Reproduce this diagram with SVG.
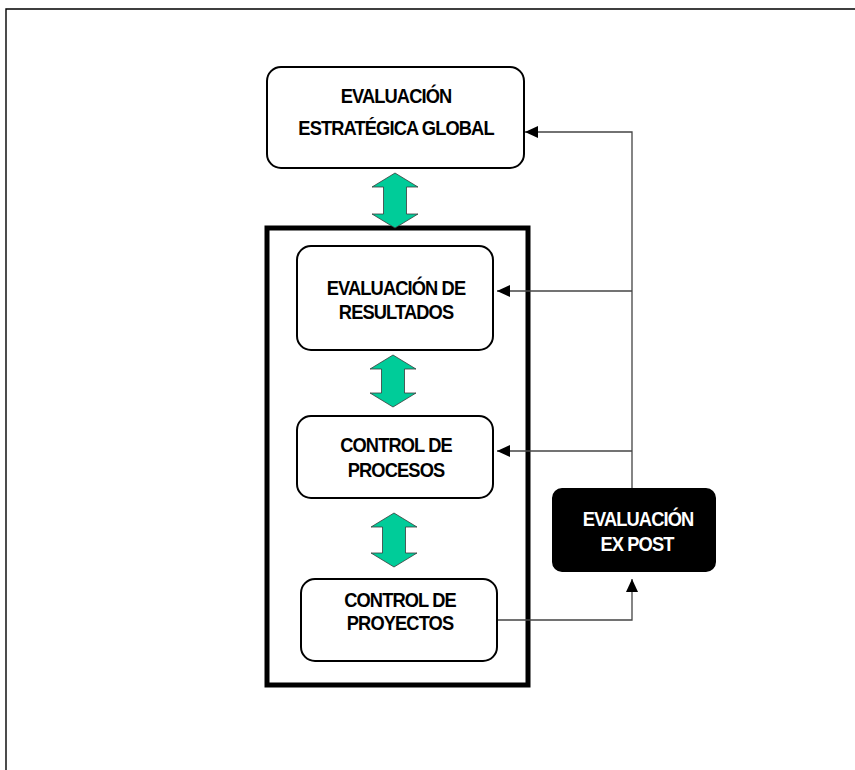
<svg xmlns="http://www.w3.org/2000/svg" width="855" height="770" viewBox="0 0 855 770">
<style>
.box{fill:#fff;stroke:#000;stroke-width:2}
.dark{fill:#000;stroke:#000;stroke-width:2}
.t{font-family:"Liberation Sans",Arial,sans-serif;font-weight:bold;font-size:21px;letter-spacing:-1px;text-anchor:middle;fill:#000}
.w{fill:#fff}
.dbl{fill:#00CC99;stroke:#3a3a3a;stroke-width:0.8}
.con{fill:none;stroke:#444;stroke-width:1.3}
</style>
<defs>
<marker id="ah" markerUnits="userSpaceOnUse" markerWidth="14" markerHeight="12" refX="13" refY="6" orient="auto">
<path d="M0,0 L13,6 L0,12 Z" fill="#000"/>
</marker>
</defs>
<rect width="855" height="770" fill="#fff"/>
<g id="frame">
<path d="M6,770 V9 H855" fill="none" stroke="#000" stroke-width="1.4"/>
</g>
<g id="container">
<rect x="267" y="228" width="261" height="457" fill="none" stroke="#000" stroke-width="5"/>
</g>
<g id="connectors">
<path class="con" d="M497,620 H632 V579" marker-end="url(#ah)"/>
<path class="con" d="M632,489 V132 H525" marker-end="url(#ah)"/>
<path class="con" d="M632,291 H497" marker-end="url(#ah)"/>
<path class="con" d="M632,451 H497" marker-end="url(#ah)"/>
<polygon class="dbl" points="395,173 418,187 406.5,187 406.5,214 418,214 395,228 372,214 383.5,214 383.5,187 372,187"/>
<polygon class="dbl" points="393,355 416,369 404.5,369 404.5,393 416,393 393,407 370,393 381.5,393 381.5,369 370,369"/>
<polygon class="dbl" points="394,513 417,527 405.5,527 405.5,553 417,553 394,567 371,553 382.5,553 382.5,527 371,527"/>
</g>
<g id="global">
<rect class="box" x="267" y="67" width="257" height="101" rx="14"/>
<text class="t" transform="translate(396 103) scale(0.87 1)">EVALUACIÓN</text>
<text class="t" transform="translate(396 135) scale(0.87 1)">ESTRATÉGICA GLOBAL</text>
</g>
<g id="resultados">
<rect class="box" x="297" y="246" width="196" height="104" rx="14"/>
<text class="t" transform="translate(396 295) scale(0.87 1)">EVALUACIÓN DE</text>
<text class="t" transform="translate(396 319) scale(0.87 1)">RESULTADOS</text>
</g>
<g id="procesos">
<rect class="box" x="297" y="416" width="196" height="82" rx="14"/>
<text class="t" transform="translate(396 452) scale(0.87 1)">CONTROL DE</text>
<text class="t" transform="translate(396 477) scale(0.87 1)">PROCESOS</text>
</g>
<g id="proyectos">
<rect class="box" x="301" y="579" width="196" height="82" rx="14"/>
<text class="t" transform="translate(400 607) scale(0.87 1)">CONTROL DE</text>
<text class="t" transform="translate(400 630) scale(0.87 1)">PROYECTOS</text>
</g>
<g id="expost">
<rect class="dark" x="553" y="489" width="162" height="82" rx="9"/>
<text class="t w" transform="translate(638 526) scale(0.87 1)">EVALUACIÓN</text>
<text class="t w" transform="translate(637 551) scale(0.87 1)">EX POST</text>
</g>
</svg>
